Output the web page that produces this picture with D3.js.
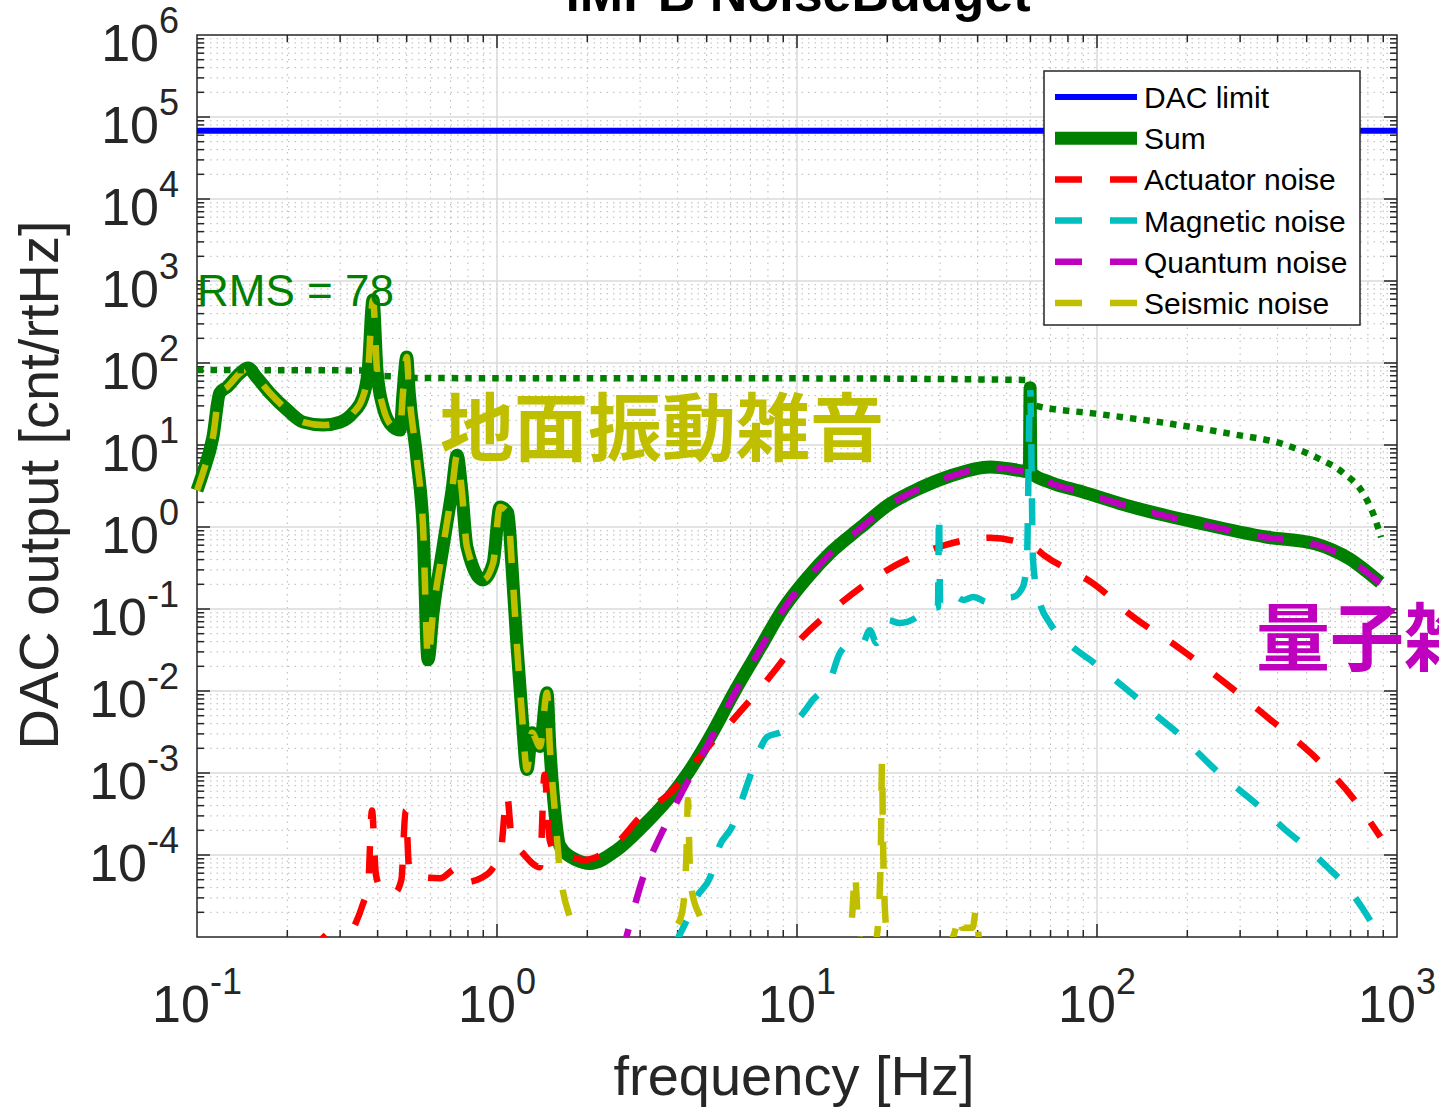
<!DOCTYPE html>
<html>
<head>
<meta charset="utf-8">
<script src="https://cdn.jsdelivr.net/npm/d3@7"></script>
<style>
body { margin: 0; background: #fff; }
svg { display: block; font-family: "Liberation Sans", Arial, Helvetica, sans-serif; }
</style>
</head>
<body>
<div id="chart"></div>
<script>
// values: [frequency Hz, DAC output cnt/rtHz]
var dacData = [[0.1, 68000], [1000, 68000]];

var sumData = [[0.1, 2.8], [0.1047, 4.6], [0.113, 12.5], [0.119, 43], [0.126, 51], [0.139, 75], [0.148, 87],
  [0.158, 67], [0.175, 43], [0.2, 26.7], [0.226, 19], [0.263, 17.5], [0.3, 19], [0.331, 24.6], [0.357, 38],
  [0.372, 82], [0.386, 587], [0.398, 82], [0.417, 29], [0.45, 16.6], [0.475, 15.2], [0.486, 43], [0.5, 118],
  [0.51, 43], [0.541, 6.6], [0.567, 1.0], [0.589, 0.024], [0.612, 0.089], [0.661, 0.57], [0.708, 2.8],
  [0.736, 7.5], [0.763, 2.8], [0.794, 0.57], [0.898, 0.226], [0.97, 0.36], [1.023, 1.75], [1.088, 1.48],
  [1.12, 0.36], [1.166, 0.035], [1.21, 0.0054], [1.259, 0.0011], [1.308, 0.0031], [1.39, 0.0021],
  [1.468, 0.0095], [1.5, 0.0021], [1.56, 3.3e-4], [1.62, 1.3e-4], [1.84, 8.7e-5], [2.04, 7.9e-5],
  [2.51, 1.15e-4], [3.07, 2.26e-4], [3.77, 5.1e-4], [4.33, 1.0e-3], [5.13, 2.75e-3], [6.21, 0.01],
  [7.53, 0.0334], [8.98, 0.1], [10.8, 0.239], [12.9, 0.482], [16.2, 0.97], [20.4, 1.91], [25.7, 2.99],
  [32.4, 4.19], [44, 5.39], [56.6, 4.82], [59.5, 4.7], [59.85, 50], [60.2, 4.6], [70, 3.5], [89, 2.7],
  [131, 1.75], [218, 1.12], [366, 0.755], [537, 0.62], [609, 0.525], [694, 0.41], [790, 0.29], [880, 0.21]];

var actuatorData = [[0.2, 5e-6], [0.23, 1e-5], [0.245, 1.3e-5], [0.26, 1.05e-5], [0.3, 7e-6], [0.336, 1.4e-5],
  [0.357, 2.5e-5], [0.372, 4.3e-5], [0.383, 3.5e-4], [0.395, 5.7e-5], [0.417, 3.5e-5], [0.457, 3.5e-5],
  [0.48, 5e-5], [0.496, 3.5e-4], [0.51, 6.6e-5], [0.553, 5.4e-5], [0.646, 5.2e-5], [0.736, 6.9e-5],
  [0.794, 4.7e-5], [0.88, 5.2e-5], [0.96, 6.6e-5], [1.03, 1.15e-4], [1.08, 5.4e-4], [1.12, 1.6e-4],
  [1.22, 1.05e-4], [1.39, 7.1e-5], [1.44, 9.5e-4], [1.5, 1.5e-4], [1.59, 1e-4], [1.75, 9.5e-5],
  [1.94, 8.7e-5], [2.51, 1.4e-4], [3.0, 2.9e-4], [3.86, 6.2e-4], [4.73, 1.58e-3], [6.1, 4.4e-3],
  [7.95, 0.0136], [10, 0.0385], [13.5, 0.106], [19.4, 0.28], [27.8, 0.525], [44, 0.74], [63, 0.53],
  [66.5, 0.455], [98, 0.2], [131, 0.082], [188, 0.0334], [270, 0.0122], [375, 4.6e-3], [524, 1.66e-3],
  [712, 5e-4], [880, 1.66e-4]];

var magneticData = [[3.9, 8e-6], [4.29, 1.6e-5], [4.64, 3.1e-5], [5.14, 5.4e-5], [5.5, 1.26e-4], [6.07, 2.2e-4],
  [6.6, 5.1e-4], [6.96, 8.9e-4], [7.5, 1.9e-3], [7.95, 2.75e-3], [8.75, 3.1e-3], [9.5, 3.6e-3], [10.4, 5.2e-3],
  [11.3, 7.8e-3], [12.9, 0.0136], [13.9, 0.029], [15.3, 0.0385], [16.4, 0.036], [17.5, 0.055], [18.4, 0.0385],
  [20.1, 0.073], [22, 0.0675], [25.1, 0.08], [27.4, 0.112], [28.6, 0.103], [29.5, 0.105], [29.75, 1.48],
  [30, 0.11], [32.4, 0.157], [35.9, 0.129], [38.7, 0.14], [43.1, 0.122], [46.4, 0.136], [52.4, 0.14],
  [56.6, 0.186], [58.4, 0.4], [59.85, 48], [61.2, 0.4], [63, 0.17], [64.5, 0.118], [69.6, 0.0675],
  [81, 0.037], [97, 0.0225], [115, 0.0136], [136, 8.2e-3], [158, 5e-3], [189, 2.9e-3], [218, 1.74e-3],
  [255, 1e-3], [302, 6e-4], [360, 3.5e-4], [420, 2.1e-4], [500, 1.23e-4], [580, 7.4e-5], [680, 4.1e-5],
  [770, 2.2e-5], [870, 1.05e-5], [950, 6e-6]];

var quantumData = [[2.6, 6e-6], [2.7, 1e-5], [3.05, 5e-5], [3.67, 2.45e-4], [4.33, 8e-4], [5.13, 2.5e-3],
  [6.21, 9.5e-3], [7.53, 0.032], [8.98, 0.097], [10.8, 0.233], [12.9, 0.472], [16.2, 0.95], [20.4, 1.88],
  [25.7, 2.95], [32.4, 4.12], [44, 5.3], [56.6, 4.75], [60, 4.55], [70, 3.45], [89, 2.65], [131, 1.73],
  [218, 1.1], [366, 0.745], [537, 0.61], [609, 0.515], [694, 0.4], [790, 0.283], [880, 0.207], [1000, 0.16]];

var seismicData = [[0.1, 2.8], [0.1047, 4.6], [0.113, 12.5], [0.119, 43], [0.126, 51], [0.139, 75], [0.148, 87],
  [0.158, 67], [0.175, 43], [0.2, 26.7], [0.226, 19], [0.263, 17.5], [0.3, 19], [0.331, 24.6], [0.357, 38],
  [0.372, 82], [0.386, 587], [0.398, 82], [0.417, 29], [0.45, 16.6], [0.475, 15.2], [0.486, 43], [0.5, 118],
  [0.51, 43], [0.541, 6.6], [0.567, 1.0], [0.589, 0.024], [0.612, 0.089], [0.661, 0.57], [0.708, 2.8],
  [0.736, 7.5], [0.763, 2.8], [0.794, 0.57], [0.898, 0.226], [0.97, 0.36], [1.023, 1.75], [1.088, 1.48],
  [1.12, 0.36], [1.166, 0.035], [1.21, 0.0054], [1.259, 0.0011], [1.308, 0.0031], [1.39, 0.0021],
  [1.468, 0.0095], [1.5, 0.0021], [1.56, 3.3e-4], [1.62, 6.6e-5], [1.79, 1.3e-5], [1.9, 5e-6],
  [3.5, 3e-6], [3.7, 6e-6], [3.86, 1.1e-5], [4.14, 2e-5], [4.28, 1e-4], [4.33, 4.7e-4], [4.38, 1e-4],
  [4.46, 3.7e-5], [4.77, 1.7e-5], [5.1, 8e-6], [5.5, 4e-6], [14, 3e-6], [14.8, 7e-6], [15.3, 2e-5],
  [15.6, 6e-5], [15.9, 2e-5], [16.5, 6e-6], [17.5, 4e-6], [18.3, 8e-6], [18.8, 2.5e-5], [19.05, 1.5e-4],
  [19.2, 1.35e-3], [19.35, 1.5e-4], [19.6, 2.5e-5], [20.3, 6e-6], [21, 3e-6], [31, 3e-6], [32.5, 8e-6],
  [34, 1.4e-5], [34.5, 1.9e-5], [35.5, 1.3e-5], [38.5, 1.3e-5], [39.6, 2.2e-5], [40.5, 8e-6], [42, 3e-6],
  [50, 2e-6]];

// cumulative rms (dotted)
var rmsData = [[0.1, 82], [0.37, 81], [0.395, 70], [0.49, 68], [0.51, 65.5], [10, 65], [59.5, 62],
  [60.2, 31.5], [61, 30.8], [101, 23.9], [170, 18.5], [282, 13.6], [415, 10.3], [536, 7.1], [660, 4.6],
  [775, 2.5], [830, 1.5], [885, 0.75]];

var legendNames = ["DAC limit", "Sum", "Actuator noise", "Magnetic noise", "Quantum noise", "Seismic noise"];
var xTickExp = [-1, 0, 1, 2, 3];
var yTickExp = [-4, -3, -2, -1, 0, 1, 2, 3, 4, 5, 6];

var W = 1439, H = 1109;
var plotL = 197, plotR = 1397, plotT = 35, plotB = 937;

var svg = d3.select("#chart").append("svg")
  .attr("width", W)
  .attr("height", H);

svg.append("rect").attr("width", W).attr("height", H).attr("fill", "#fff");

var x = d3.scaleLog().domain([0.1, 1000]).range([plotL, plotR]);
var y = d3.scaleLog().domain([1e-5, 1e6]).range([plotB, plotT]);

// grid
var xMinor = [], xMajor = [];
for (var d = -1; d <= 2; d++) {
  if (d > -1) xMajor.push(Math.pow(10, d));
  for (var m = 2; m <= 9; m++) xMinor.push(m * Math.pow(10, d));
}
var yMinor = [], yMajor = [];
for (var d = -5; d <= 5; d++) {
  if (d > -5) yMajor.push(Math.pow(10, d));
  for (var m = 2; m <= 9; m++) yMinor.push(m * Math.pow(10, d));
}

var grid = svg.append("g");
grid.selectAll(".xm").data(xMinor).enter().append("line")
  .attr("x1", d => x(d)).attr("x2", d => x(d)).attr("y1", plotT).attr("y2", plotB)
  .attr("stroke", "#b8b8b8").attr("stroke-width", 1).attr("stroke-dasharray", "1.5 5");
grid.selectAll(".ym").data(yMinor).enter().append("line")
  .attr("y1", d => y(d)).attr("y2", d => y(d)).attr("x1", plotL).attr("x2", plotR)
  .attr("stroke", "#b8b8b8").attr("stroke-width", 1).attr("stroke-dasharray", "1.5 5");
grid.selectAll(".xM").data(xMajor).enter().append("line")
  .attr("x1", d => x(d)).attr("x2", d => x(d)).attr("y1", plotT).attr("y2", plotB)
  .attr("stroke", "#dadada").attr("stroke-width", 1.5);
grid.selectAll(".yM").data(yMajor).enter().append("line")
  .attr("y1", d => y(d)).attr("y2", d => y(d)).attr("x1", plotL).attr("x2", plotR)
  .attr("stroke", "#dadada").attr("stroke-width", 1.5);

// axes box and inward ticks (all four sides)
var ax = svg.append("g").attr("stroke", "#262626");
ax.append("rect").attr("x", plotL).attr("y", plotT).attr("width", plotR - plotL).attr("height", plotB - plotT)
  .attr("fill", "none").attr("stroke-width", 1.5);
function tickX(vals, len) {
  vals.forEach(function(v) {
    ax.append("line").attr("x1", x(v)).attr("x2", x(v)).attr("y1", plotB).attr("y2", plotB - len).attr("stroke-width", 1.5);
    ax.append("line").attr("x1", x(v)).attr("x2", x(v)).attr("y1", plotT).attr("y2", plotT + len).attr("stroke-width", 1.5);
  });
}
function tickY(vals, len) {
  vals.forEach(function(v) {
    ax.append("line").attr("y1", y(v)).attr("y2", y(v)).attr("x1", plotL).attr("x2", plotL + len).attr("stroke-width", 1.5);
    ax.append("line").attr("y1", y(v)).attr("y2", y(v)).attr("x1", plotR).attr("x2", plotR - len).attr("stroke-width", 1.5);
  });
}
tickX(xMinor, 7); tickX(xMajor, 13);
tickY(yMinor, 7); tickY(yMajor, 13);

// tick labels
xTickExp.forEach(function(e) {
  var t = svg.append("text")
    .attr("x", x(Math.pow(10, e)))
    .attr("y", 1022)
    .attr("text-anchor", "middle")
    .attr("font-size", 52)
    .attr("fill", "#262626");
  t.append("tspan").text("10");
  t.append("tspan").attr("dy", -28).attr("font-size", 36).text(e);
});
yTickExp.forEach(function(e) {
  var t = svg.append("text")
    .attr("x", 179)
    .attr("y", y(Math.pow(10, e)) + 26)
    .attr("text-anchor", "end")
    .attr("font-size", 52)
    .attr("fill", "#262626");
  t.append("tspan").text("10");
  t.append("tspan").attr("dy", -28).attr("font-size", 36).text(e);
});

// axis labels + title
svg.append("text").attr("x", 794).attr("y", 1095).attr("text-anchor", "middle")
  .attr("font-size", 56).attr("fill", "#262626").text("frequency [Hz]");
svg.append("text").attr("transform", "translate(58,485) rotate(-90)").attr("text-anchor", "middle")
  .attr("font-size", 56).attr("fill", "#262626").text("DAC output [cnt/rtHz]");
svg.append("text").attr("x", 798).attr("y", 11).attr("text-anchor", "middle")
  .attr("font-size", 52).attr("font-weight", "bold").attr("fill", "#000").text("iMPB NoiseBudget");

// data lines
svg.append("clipPath").attr("id", "plotclip").append("rect")
  .attr("x", plotL - 8).attr("y", plotT).attr("width", plotR - plotL + 10).attr("height", plotB - plotT);

var line = d3.line()
  .x(d => x(d[0]))
  .y(d => y(d[1]))
  .curve(d3.curveMonotoneX);

var series = [
  { data: dacData, color: "#0000ff", width: 6, dash: null },
  { data: sumData, color: "#008000", width: 13, dash: null },
  { data: actuatorData, color: "#ff0000", width: 6.5, dash: "27 27" },
  { data: magneticData, color: "#00bfbf", width: 6.5, dash: "27 27" },
  { data: quantumData, color: "#bf00bf", width: 6.5, dash: "27 27" },
  { data: seismicData, color: "#bfbf00", width: 6.5, dash: "27 27" }
];

var plot = svg.append("g").attr("clip-path", "url(#plotclip)");
series.forEach(function(s) {
  plot.append("path")
    .datum(s.data)
    .attr("d", line)
    .attr("fill", "none")
    .attr("stroke", s.color)
    .attr("stroke-width", s.width)
    .attr("stroke-linejoin", "round")
    .attr("stroke-dasharray", s.dash);
});
plot.append("path")
  .datum(rmsData)
  .attr("d", line)
  .attr("fill", "none")
  .attr("stroke", "#008000")
  .attr("stroke-width", 6.5)
  .attr("stroke-dasharray", "6.5 7");

svg.append("text").attr("x", 197).attr("y", 306)
  .attr("font-size", 44).attr("fill", "#008000").text("RMS = 78");

// legend
var lg = svg.append("g");
lg.append("rect").attr("x", 1044).attr("y", 71).attr("width", 316).attr("height", 254)
  .attr("fill", "#fff").attr("stroke", "#262626").attr("stroke-width", 1.5);
legendNames.forEach(function(name, i) {
  var cy = 97 + i * 41.2;
  var s = series[i];
  lg.append("line").attr("x1", 1055).attr("x2", 1137).attr("y1", cy).attr("y2", cy)
    .attr("stroke", s.color).attr("stroke-width", s.width)
    .attr("stroke-dasharray", s.dash ? "27 28" : null);
  lg.append("text").attr("x", 1144).attr("y", cy + 11)
    .attr("font-size", 30).attr("fill", "#000").text(name);
});

// annotations
svg.append("text").attr("x", 440).attr("y", 455)
  .attr("font-family", "'Noto Sans CJK JP', sans-serif").attr("font-weight", 700)
  .attr("font-size", 74).attr("fill", "#bfbf00").text("地面振動雑音");
svg.append("text").attr("x", 1256).attr("y", 665)
  .attr("font-family", "'Noto Sans CJK JP', sans-serif").attr("font-weight", 700)
  .attr("font-size", 74).attr("fill", "#bf00bf").text("量子雑音");
</script>
</body>
</html>
